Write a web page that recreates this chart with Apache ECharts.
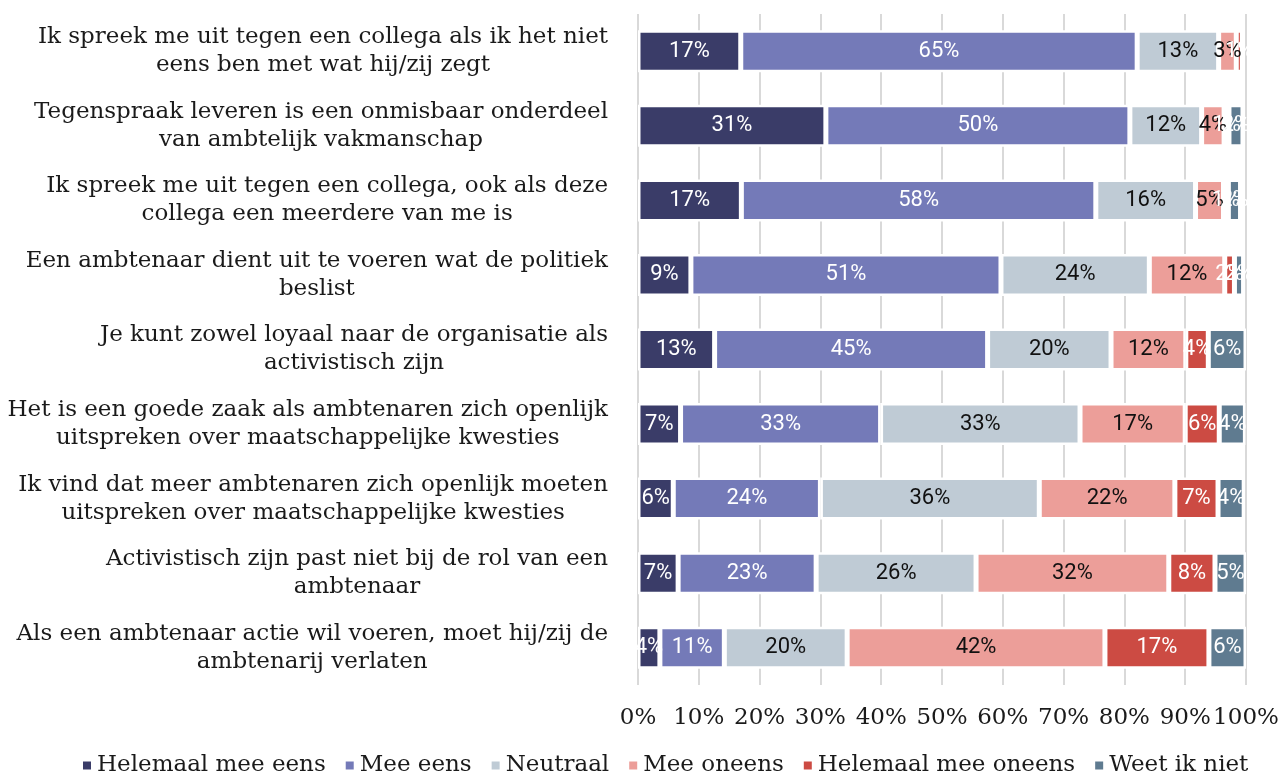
<!DOCTYPE html>
<html>
<head>
<meta charset="utf-8">
<script src="https://cdn.jsdelivr.net/npm/echarts@6/dist/echarts.min.js"></script>
<style>
html,body{margin:0;padding:0;background:#fff;}
#chart{width:1284px;height:780px;}
</style>
</head>
<body>
<div id="chart"></div>
<script>
const categories = [
  "Ik spreek me uit tegen een collega als ik het niet\neens ben met wat hij/zij zegt",
  "Tegenspraak leveren is een onmisbaar onderdeel\nvan ambtelijk vakmanschap",
  "Ik spreek me uit tegen een collega, ook als deze\ncollega een meerdere van me is",
  "Een ambtenaar dient uit te voeren wat de politiek\nbeslist",
  "Je kunt zowel loyaal naar de organisatie als\nactivistisch zijn",
  "Het is een goede zaak als ambtenaren zich openlijk\nuitspreken over maatschappelijke kwesties",
  "Ik vind dat meer ambtenaren zich openlijk moeten\nuitspreken over maatschappelijke kwesties",
  "Activistisch zijn past niet bij de rol van een\nambtenaar",
  "Als een ambtenaar actie wil voeren, moet hij/zij de\nambtenarij verlaten"
];
const seriesNames = ["Helemaal mee eens", "Mee eens", "Neutraal", "Mee oneens", "Helemaal mee oneens", "Weet ik niet"];
const helemaalMeeEens   = [16.9, 30.9, 17.0,  8.7, 12.6,  7.0,  5.8,  6.6,  3.6];
const meeEens           = [65.2, 50.0, 58.3, 51.0, 44.9, 32.9, 24.2, 22.7, 10.6];
const neutraal          = [13.4, 11.8, 16.4, 24.4, 20.3, 32.8, 36.0, 26.3, 20.2];
const meeOneens         = [ 2.9,  3.7,  4.6, 12.4, 12.3, 17.3, 22.3, 31.7, 42.4];
const helemaalMeeOneens = [ 1.0,  0.8,  0.8,  1.6,  3.7,  5.6,  7.1,  7.6, 17.1];
const weetIkNiet        = [ 0,    2.3,  2.0,  1.5,  6.2,  4.3,  4.3,  5.1,  6.1];
const xTicks = ["0%","10%","20%","30%","40%","50%","60%","70%","80%","90%","100%"];

const colors = ["#3a3c68", "#747ab8", "#bfcbd5", "#ec9e99", "#cc4b43", "#5f7b90"];
const labelColors = ["#ffffff", "#ffffff", "#111111", "#111111", "#ffffff", "#ffffff"];
const seriesData = [helemaalMeeEens, meeEens, neutraal, meeOneens, helemaalMeeOneens, weetIkNiet];

const serif = "'DejaVu Serif', serif";
const chart = echarts.init(document.getElementById('chart'));
chart.setOption({
  animation: false,
  backgroundColor: '#ffffff',
  color: colors,
  grid: { left: 638, right: 38, top: 14, bottom: 95, containLabel: false },
  legend: {
    bottom: -2,
    left: 76,
    icon: 'rect',
    itemWidth: 10,
    itemHeight: 10,
    itemGap: 18,
    textStyle: { fontFamily: serif, fontSize: 23, color: '#1a1a1a' },
    data: seriesNames
  },
  xAxis: {
    type: 'value',
    min: 0, max: 100, interval: 10,
    axisLine: { show: false },
    axisTick: { show: false },
    splitLine: { show: true, lineStyle: { color: '#d9d9d9', width: 2 } },
    axisLabel: {
      margin: 22,
      fontFamily: serif, fontSize: 23, color: '#1a1a1a',
      formatter: function (v) { return xTicks[Math.round(v / 10)]; }
    }
  },
  yAxis: {
    type: 'category',
    inverse: true,
    data: categories,
    axisLine: { show: false },
    axisTick: { show: false },
    axisLabel: {
      margin: 30,
      align: 'right',
      fontFamily: serif, fontSize: 23, color: '#1a1a1a', lineHeight: 28,
      formatter: function (v) { return v.split('\n').map(function (l) { return '{c|' + l + '}'; }).join('\n'); },
      rich: { c: { fontFamily: serif, fontSize: 23, color: '#1a1a1a', lineHeight: 28, align: 'center' } }
    }
  },
  series: seriesNames.map(function (name, i) {
    return {
      name: name,
      type: 'bar',
      stack: 'total',
      barWidth: 42,
      data: seriesData[i],
      itemStyle: { color: colors[i], borderColor: '#ffffff', borderWidth: 2.5 },
      label: {
        show: true,
        position: 'inside',
        fontFamily: 'Roboto, sans-serif',
        fontSize: 22,
        color: labelColors[i],
        formatter: function (p) { return p.value > 0 ? Math.round(p.value) + '%' : ''; }
      }
    };
  })
});
</script>
</body>
</html>
